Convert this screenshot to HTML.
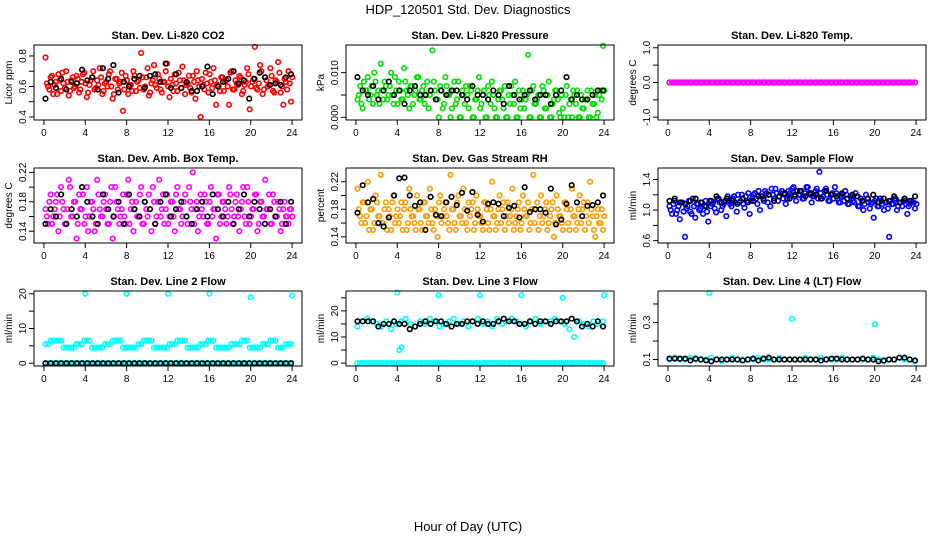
<!DOCTYPE html>
<html><head><meta charset="utf-8"><style>
body{margin:0;background:#fff;}
svg{display:block;font-family:"Liberation Sans",sans-serif;}
</style></head><body>
<svg id="chart" width="936" height="540" viewBox="0 0 936 540">
<text x="468" y="14" text-anchor="middle" font-size="13">HDP_120501  Std. Dev. Diagnostics</text>
<text x="468" y="531" text-anchor="middle" font-size="13">Hour of Day (UTC)</text>
</svg>
<script>
const co2Main=[0.79,0.60,0.66,0.55,0.63,0.68,0.57,0.62,0.70,0.54,0.64,0.59,0.67,0.56,0.63,0.69,0.53,0.61,0.66,0.58,0.64,0.72,0.55,0.62,0.60,0.70,0.52,0.65,0.58,0.63,0.44,0.67,0.55,0.61,0.70,0.57,0.64,0.82,0.58,0.66,0.54,0.62,0.74,0.59,0.65,0.56,0.63,0.75,0.53,0.61,0.68,0.57,0.64,0.73,0.55,0.62,0.59,0.67,0.52,0.64,0.40,0.61,0.69,0.56,0.63,0.72,0.48,0.60,0.66,0.57,0.64,0.48,0.70,0.58,0.62,0.67,0.55,0.61,0.72,0.45,0.63,0.86,0.58,0.74,0.55,0.66,0.60,0.72,0.57,0.64,0.76,0.56,0.48,0.63,0.70,0.50];
const co2Main2=[0.62,0.58,0.67,0.61,0.55,0.64,0.69,0.59,0.63,0.57,0.66,0.60,0.65,0.58,0.68,0.62,0.56,0.64,0.70,0.59,0.61,0.66,0.57,0.63,0.68,0.60,0.55,0.65,0.62,0.69,0.58,0.64,0.61,0.57,0.67,0.63,0.59,0.66,0.60,0.72,0.56,0.64,0.61,0.68,0.58,0.63,0.70,0.60,0.65,0.57,0.62,0.69,0.59,0.64,0.61,0.67,0.56,0.63,0.70,0.60,0.65,0.58,0.62,0.68,0.59,0.64,0.61,0.57,0.66,0.63,0.60,0.69,0.58,0.64,0.61,0.66,0.57,0.63,0.68,0.60,0.65,0.59,0.62,0.70,0.58,0.64,0.61,0.67,0.56,0.63,0.69,0.60,0.65,0.58,0.62,0.66];
const co2Ref=[0.52,0.63,0.59,0.65,0.58,0.63,0.62,0.71,0.64,0.66,0.58,0.72,0.65,0.74,0.56,0.63,0.60,0.65,0.67,0.59,0.67,0.68,0.63,0.75,0.59,0.68,0.59,0.63,0.57,0.57,0.60,0.73,0.55,0.60,0.63,0.65,0.70,0.62,0.64,0.52,0.65,0.69,0.66,0.61,0.62,0.61,0.66,0.68];
const presMain=[0.004,0.007,0.002,0.006,0.009,0.005,0.003,0.008,0.006,0.012,0.004,0.007,0.005,0.010,0.003,0.006,0.008,0.004,0.011,0.006,0.002,0.007,0.005,0.009,0.004,0.006,0.003,0.008,0.005,0.015,0.006,0.004,0.007,0.002,0.009,0.005,0.000,0.006,0.003,0.008,0.000,0.005,0.007,0.002,0.006,0.000,0.004,0.009,0.003,0.006,0.000,0.005,0.008,0.002,0.000,0.006,0.004,0.007,0.000,0.003,0.005,0.008,0.000,0.002,0.006,0.004,0.014,0.000,0.007,0.003,0.005,0.000,0.006,0.002,0.008,0.000,0.004,0.006,0.001,0.005,0.000,0.007,0.003,0.000,0.005,0.006,0.000,0.002,0.004,0.006,0.000,0.003,0.005,0.001,0.006,0.016];
const presMain2=[0.005,0.003,0.008,0.006,0.004,0.007,0.010,0.005,0.003,0.006,0.008,0.004,0.007,0.005,0.009,0.003,0.006,0.004,0.008,0.005,0.007,0.003,0.006,0.009,0.004,0.007,0.005,0.002,0.006,0.008,0.004,0.000,0.006,0.003,0.007,0.005,0.002,0.008,0.004,0.000,0.006,0.003,0.005,0.007,0.000,0.004,0.006,0.002,0.005,0.000,0.007,0.003,0.005,0.000,0.004,0.006,0.002,0.000,0.005,0.007,0.003,0.000,0.006,0.004,0.002,0.005,0.000,0.006,0.003,0.004,0.000,0.007,0.002,0.005,0.000,0.003,0.006,0.004,0.000,0.002,0.005,0.000,0.004,0.006,0.003,0.000,0.005,0.002,0.004,0.000,0.006,0.003,0.000,0.005,0.004,0.006];
const presRef=[0.009,0.006,0.005,0.007,0.004,0.006,0.008,0.005,0.006,0.003,0.006,0.007,0.005,0.005,0.006,0.004,0.006,0.005,0.006,0.006,0.005,0.004,0.007,0.005,0.005,0.004,0.006,0.005,0.003,0.007,0.005,0.004,0.005,0.006,0.004,0.005,0.005,0.003,0.005,0.006,0.009,0.004,0.005,0.004,0.004,0.005,0.006,0.006];
const tempMain=[0,0,0,0,0,0,0,0,0,0,0,0,0,0,0,0,0,0,0,0,0,0,0,0,0,0,0,0,0,0,0,0,0,0,0,0,0,0,0,0,0,0,0,0,0,0,0,0,0,0,0,0,0,0,0,0,0,0,0,0,0,0,0,0,0,0,0,0,0,0,0,0,0,0,0,0,0,0,0,0,0,0,0,0,0,0,0,0,0,0,0,0,0,0,0,0];
const tempRef=[0,0,0,0,0,0,0,0,0,0,0,0,0,0,0,0,0,0,0,0,0,0,0,0,0,0,0,0,0,0,0,0,0,0,0,0,0,0,0,0,0,0,0,0,0,0,0,0];
const boxMain=[0.17,0.15,0.19,0.16,0.18,0.14,0.20,0.17,0.15,0.21,0.16,0.18,0.13,0.19,0.17,0.15,0.20,0.16,0.18,0.14,0.21,0.17,0.16,0.19,0.15,0.18,0.13,0.20,0.17,0.16,0.19,0.15,0.21,0.17,0.14,0.18,0.16,0.20,0.15,0.17,0.19,0.14,0.18,0.16,0.21,0.17,0.15,0.19,0.16,0.18,0.14,0.20,0.17,0.16,0.19,0.15,0.18,0.22,0.17,0.14,0.19,0.16,0.18,0.15,0.20,0.17,0.13,0.19,0.16,0.18,0.15,0.20,0.17,0.16,0.19,0.14,0.18,0.16,0.20,0.15,0.17,0.19,0.14,0.18,0.16,0.21,0.17,0.15,0.19,0.16,0.18,0.14,0.17,0.16,0.15,0.17];
const boxMain2=[0.16,0.18,0.15,0.17,0.19,0.16,0.18,0.15,0.17,0.20,0.16,0.18,0.15,0.17,0.19,0.16,0.14,0.18,0.17,0.15,0.19,0.16,0.18,0.17,0.15,0.20,0.16,0.18,0.15,0.17,0.16,0.19,0.15,0.18,0.17,0.16,0.19,0.15,0.18,0.16,0.17,0.20,0.15,0.18,0.16,0.19,0.17,0.15,0.18,0.16,0.19,0.17,0.15,0.18,0.16,0.20,0.17,0.15,0.18,0.16,0.17,0.19,0.15,0.18,0.16,0.17,0.19,0.15,0.18,0.17,0.16,0.19,0.15,0.18,0.16,0.17,0.20,0.15,0.18,0.16,0.17,0.19,0.15,0.18,0.16,0.17,0.19,0.15,0.18,0.16,0.17,0.15,0.18,0.16,0.17,0.16];
const boxRef=[0.15,0.17,0.16,0.19,0.15,0.17,0.16,0.20,0.18,0.16,0.15,0.19,0.17,0.16,0.18,0.15,0.19,0.17,0.16,0.18,0.17,0.15,0.18,0.19,0.16,0.17,0.18,0.16,0.15,0.17,0.18,0.16,0.19,0.17,0.16,0.18,0.15,0.17,0.19,0.16,0.18,0.17,0.15,0.17,0.16,0.18,0.15,0.18];
const rhMain=[0.21,0.17,0.19,0.16,0.22,0.18,0.15,0.20,0.17,0.23,0.16,0.19,0.18,0.15,0.20,0.17,0.16,0.19,0.18,0.15,0.21,0.17,0.16,0.20,0.18,0.15,0.19,0.17,0.21,0.16,0.18,0.14,0.20,0.17,0.19,0.16,0.23,0.18,0.15,0.20,0.17,0.21,0.16,0.19,0.18,0.15,0.20,0.17,0.16,0.19,0.18,0.15,0.22,0.17,0.16,0.20,0.18,0.15,0.19,0.17,0.21,0.16,0.18,0.15,0.20,0.17,0.19,0.16,0.23,0.18,0.15,0.20,0.17,0.19,0.16,0.18,0.14,0.20,0.17,0.16,0.19,0.18,0.15,0.21,0.17,0.16,0.20,0.18,0.15,0.19,0.22,0.17,0.14,0.18,0.16,0.15];
const rhMain2=[0.18,0.16,0.19,0.17,0.15,0.18,0.16,0.19,0.17,0.16,0.18,0.15,0.17,0.19,0.16,0.18,0.17,0.15,0.19,0.16,0.18,0.17,0.15,0.18,0.16,0.19,0.17,0.16,0.18,0.15,0.17,0.19,0.16,0.18,0.17,0.15,0.18,0.16,0.19,0.17,0.16,0.18,0.15,0.17,0.19,0.16,0.18,0.17,0.15,0.19,0.16,0.18,0.17,0.15,0.18,0.16,0.19,0.17,0.16,0.18,0.15,0.17,0.19,0.16,0.18,0.17,0.15,0.18,0.16,0.19,0.17,0.16,0.18,0.15,0.17,0.19,0.16,0.18,0.17,0.15,0.19,0.16,0.18,0.17,0.15,0.18,0.16,0.19,0.17,0.16,0.18,0.15,0.17,0.16,0.18,0.17];
const rhRef=[0.175,0.215,0.19,0.195,0.16,0.155,0.168,0.20,0.225,0.226,0.2,0.185,0.19,0.15,0.198,0.172,0.17,0.19,0.198,0.186,0.204,0.178,0.205,0.172,0.162,0.188,0.19,0.188,0.17,0.182,0.185,0.168,0.212,0.176,0.18,0.18,0.175,0.21,0.158,0.165,0.188,0.215,0.19,0.17,0.185,0.186,0.19,0.20];
const flowMain=[1.05,0.95,1.12,1.0,0.88,1.1,0.65,1.05,0.98,1.15,0.9,1.08,1.02,0.95,1.12,0.85,1.05,1.1,0.97,1.15,1.0,1.08,0.92,1.12,1.05,1.18,0.98,1.1,1.2,1.03,1.12,0.95,1.15,1.22,1.08,1.0,1.18,1.25,1.1,1.05,1.2,1.28,1.12,1.22,1.15,1.08,1.25,1.18,1.3,1.12,1.2,1.25,1.15,1.3,1.22,1.1,1.18,1.28,1.5,1.15,1.25,1.2,1.12,1.22,1.3,1.15,1.1,1.2,1.25,1.08,1.18,1.12,1.22,1.05,1.15,1.0,1.2,1.1,1.08,0.9,1.15,1.05,1.12,1.0,1.1,0.65,1.08,1.15,1.0,1.1,1.05,1.12,0.95,1.08,1.1,1.02];
const flowMain2=[1.0,1.08,0.95,1.05,1.1,0.98,1.02,1.12,0.95,1.05,1.08,1.0,1.1,1.05,0.98,1.12,1.08,1.02,1.15,1.1,1.05,1.12,1.18,1.08,1.15,1.1,1.2,1.12,1.08,1.18,1.22,1.12,1.2,1.15,1.25,1.18,1.12,1.22,1.2,1.28,1.15,1.22,1.18,1.25,1.2,1.15,1.22,1.28,1.18,1.25,1.2,1.15,1.22,1.3,1.2,1.18,1.25,1.15,1.22,1.18,1.28,1.12,1.2,1.15,1.22,1.1,1.18,1.12,1.2,1.08,1.15,1.1,1.18,1.05,1.12,1.08,1.15,1.02,1.1,1.12,1.05,1.15,1.08,1.1,1.02,1.12,1.08,1.15,1.05,1.1,1.12,1.08,1.05,1.12,1.1,1.08];
const flowRef=[1.12,1.15,1.1,1.08,1.12,1.15,1.1,1.05,1.12,1.18,1.1,1.15,1.12,1.08,1.15,1.1,1.12,1.18,1.15,1.2,1.12,1.18,1.22,1.15,1.2,1.25,1.18,1.22,1.2,1.15,1.25,1.2,1.18,1.22,1.15,1.2,1.18,1.12,1.15,1.2,1.1,1.15,1.12,1.18,1.1,1.15,1.12,1.18];
const line2Main=[5.5,5.5,6.5,6.5,6.5,6.5,6.5,4.5,4.5,4.5,4.5,4.5,5.5,5.5,5.5,6.5,6.5,6.5,4.5,4.5,4.5,4.5,4.5,5.5,5.5,5.5,6.5,6.5,6.5,6.5,4.5,4.5,4.5,4.5,4.5,4.5,5.5,5.5,6.5,6.5,6.5,6.5,4.5,4.5,4.5,4.5,4.5,4.5,5.5,5.5,5.5,6.5,6.5,6.5,6.5,4.5,4.5,4.5,4.5,4.5,5.5,5.5,5.5,6.5,6.5,6.5,4.5,4.5,4.5,4.5,4.5,4.5,5.5,5.5,5.5,5.5,6.5,6.5,6.5,4.5,4.5,4.5,4.5,4.5,5.5,5.5,5.5,6.5,6.5,6.5,4.5,4.5,4.5,5.5,5.5,5.5];
const line2Base=[0,0,0,0,0,0,0,0,0,0,0,0,0,0,0,0,0,0,0,0,0,0,0,0,0,0,0,0,0,0,0,0,0,0,0,0,0,0,0,0,0,0,0,0,0,0,0,0,0,0,0,0,0,0,0,0,0,0,0,0,0,0,0,0,0,0,0,0,0,0,0,0,0,0,0,0,0,0,0,0,0,0,0,0,0,0,0,0,0,0,0,0,0,0,0,0];
const line2Ref=[0,0,0,0,0,0,0,0,0,0,0,0,0,0,0,0,0,0,0,0,0,0,0,0,0,0,0,0,0,0,0,0,0,0,0,0,0,0,0,0,0,0,0,0,0,0,0,0];
const line2SpikeH=[4,8,12,16,20,24];
const line2SpikeV=[20,20,20,20,19,19.5];
const line3Main=[14,16,17,16,15,14,16,13,15,16,17,15,14,16,15,17,16,14,15,16,17,15,16,14,16,17,15,16,14,17,15,16,17,16,15,14,16,17,15,16,16,17,16,15,13,10,16,15,14,16,15,16];
const line3Base=[0,0,0,0,0,0,0,0,0,0,0,0,0,0,0,0,0,0,0,0,0,0,0,0,0,0,0,0,0,0,0,0,0,0,0,0,0,0,0,0,0,0,0,0,0,0,0,0,0,0,0,0,0,0,0,0,0,0,0,0,0,0,0,0,0,0,0,0,0,0,0,0,0,0,0,0,0,0,0,0,0,0,0,0,0,0,0,0,0,0,0,0,0,0,0,0];
const line3Ref=[16,16,16,16,14,15,15,16,15,15,13,14,15,16,15,16,16,15,14,15,15,16,16,15,16,15,15,16,17,16,16,15,15,16,15,16,16,15,16,16,16,17,16,14,15,14,16,14];
const line3SpikeH=[4,4.2,4.4,8,12,16,20,24];
const line3SpikeV=[27,5,6,26,26,26,25,26];
const line4Main=[0.1,0.11,0.1,0.1,0.11,0.1,0.1,0.1,0.11,0.1,0.09,0.1,0.11,0.1,0.1,0.1,0.1,0.11,0.1,0.1,0.1,0.11,0.1,0.1,0.1,0.1,0.11,0.1,0.1,0.11,0.1,0.1,0.1,0.11,0.1,0.1,0.1,0.1,0.1,0.11,0.1,0.09,0.1,0.1,0.11,0.1,0.1,0.09];
const line4Ref=[0.105,0.105,0.105,0.105,0.095,0.105,0.1,0.095,0.09,0.1,0.1,0.1,0.1,0.1,0.095,0.1,0.105,0.095,0.105,0.11,0.1,0.1,0.1,0.1,0.1,0.1,0.1,0.1,0.1,0.095,0.1,0.105,0.105,0.1,0.1,0.1,0.1,0.105,0.1,0.1,0.09,0.095,0.1,0.1,0.11,0.11,0.1,0.095];
const line4SpikeH=[4,12,20];
const line4SpikeV=[0.46,0.32,0.29];

const panels=[
 {title:"Stan. Dev. Li-820 CO2",ylab:"Licor ppm",ylim:[0.38,0.872],ticks:[0.4,0.5,0.6,0.7,0.8],labels:["0.4","","0.6","","0.8"],series:[[co2Main2,"#ff0000",1],[co2Main,"#ff0000",0],[co2Ref,"#000",0]]},
 {title:"Stan. Dev. Li-820 Pressure",ylab:"kPa",ylim:[-0.0006,0.0162],ticks:[0,0.005,0.010],labels:["0.000","","0.010"],series:[[presMain2,"#00e000",1],[presMain,"#00e000",0],[presRef,"#000",0]]},
 {title:"Stan. Dev. Li-820 Temp.",ylab:"degrees C",ylim:[-1.08,1.08],ticks:[-1,-0.5,0,0.5,1],labels:["-1.0","","0.0","","1.0"],series:[[tempRef,"#000",0],[tempMain,"#ff00ff",0]]},
 {title:"Stan. Dev. Amb. Box Temp.",ylab:"degrees C",ylim:[0.124,0.226],ticks:[0.14,0.16,0.18,0.20,0.22],labels:["0.14","","0.18","","0.22"],series:[[boxMain2,"#ff00ff",1],[boxMain,"#ff00ff",0],[boxRef,"#000",0]]},
 {title:"Stan. Dev. Gas Stream RH",ylab:"percent",ylim:[0.131,0.24],ticks:[0.14,0.16,0.18,0.20,0.22],labels:["0.14","","0.18","","0.22"],series:[[rhMain2,"#ff9a00",1],[rhMain,"#ff9a00",0],[rhRef,"#000",0]]},
 {title:"Stan. Dev. Sample Flow",ylab:"ml/min",ylim:[0.57,1.55],ticks:[0.6,0.8,1.0,1.2,1.4],labels:["0.6","","1.0","","1.4"],series:[[flowMain2,"#0000ff",1],[flowMain,"#0000ff",0],[flowRef,"#000",0]]},
 {title:"Stan. Dev. Line 2 Flow",ylab:"ml/min",ylim:[-0.8,20.8],ticks:[0,5,10,15,20],labels:["0","","10","","20"],series:[[line2Main,"#00ffff",0],[line2Base,"#00ffff",0],[line2Ref,"#000",0]],spike:[line2SpikeH,line2SpikeV]},
 {title:"Stan. Dev. Line 3 Flow",ylab:"ml/min",ylim:[-1.1,27.6],ticks:[0,5,10,15,20,25],labels:["0","","10","","20",""],series:[[line3Main,"#00ffff",0],[line3Base,"#00ffff",0],[line3Ref,"#000",0]],spike:[line3SpikeH,line3SpikeV]},
 {title:"Stan. Dev. Line 4 (LT) Flow",ylab:"ml/min",ylim:[0.065,0.47],ticks:[0.1,0.2,0.3,0.4],labels:["0.1","","0.3",""],series:[[line4Main,"#00ffff",0],[line4Ref,"#000",0]],spike:[line4SpikeH,line4SpikeV]}
];
const xTicks=[0,4,8,12,16,20,24];
const svg=document.getElementById('chart');
const NS="http://www.w3.org/2000/svg";
function mk(tag,attrs,parent){const e=document.createElementNS(NS,tag);for(const k in attrs)e.setAttribute(k,attrs[k]);parent.appendChild(e);return e;}
panels.forEach((p,idx)=>{
 const col=idx%3,row=Math.floor(idx/3);
 const L=34+col*312,R=L+268,T=45+row*123,B=T+75;
 const sx=h=>L+(h+0.96)/25.92*(R-L);
 const sy=v=>B-(v-p.ylim[0])/(p.ylim[1]-p.ylim[0])*(B-T);
 const g=mk('g',{},svg);
 
 
 const t=mk('text',{x:(L+R)/2,y:T-6,'text-anchor':'middle','font-size':'11','font-weight':'bold'},g);t.textContent=p.title;
 
 
 const yl=mk('text',{x:0,y:0,transform:`translate(${L-22},${(T+B)/2}) rotate(-90)`,'text-anchor':'middle','font-size':'10'},g);yl.textContent=p.ylab;
 
 
 const pts=mk('g',{fill:'none','stroke-width':'1.6'},g);
 
 
 p.series.forEach(([arr,color,off])=>{
  const n=arr.length;
  const step=23.75/(n-1);
  arr.forEach((v,i)=>{
   const h=0.15+(i+off*0.5)*step;
   const c=mk('circle',{cx:sx(h),cy:sy(v),r:2.3,stroke:color},pts);
   
   
  });
 });
 if(p.spike){p.spike[0].forEach((h,i)=>{
   const c=mk('circle',{cx:sx(h),cy:sy(p.spike[1][i]),r:2.3,stroke:'#00ffff'},pts);
   
   
 });}
 const box=mk('rect',{x:L,y:T,width:R-L,height:B-T,fill:'none',stroke:'#000','stroke-width':'1'},g);
 
 
 const ax=mk('g',{stroke:'#000','stroke-width':'1'},g);
 
 
 mk('line',{x1:sx(0),x2:sx(24),y1:B,y2:B},ax);
 xTicks.forEach(h=>{mk('line',{x1:sx(h),x2:sx(h),y1:B,y2:B+5},ax);
  const tx=mk('text',{x:sx(h),y:B+16,'text-anchor':'middle','font-size':'10',stroke:'none'},ax);tx.textContent=h;});
 const ay=mk('g',{stroke:'#000','stroke-width':'1'},g);
 
 
 mk('line',{x1:L,x2:L,y1:sy(p.ticks[0]),y2:sy(p.ticks[p.ticks.length-1])},ay);
 p.ticks.forEach((v,i)=>{mk('line',{x1:L-5,x2:L,y1:sy(v),y2:sy(v)},ay);
  if(p.labels[i]){const tx=mk('text',{x:0,y:0,transform:`translate(${L-8},${sy(v)}) rotate(-90)`,'text-anchor':'middle','font-size':'10',stroke:'none'},ay);tx.textContent=p.labels[i];}});
});
</script>
</body></html>
